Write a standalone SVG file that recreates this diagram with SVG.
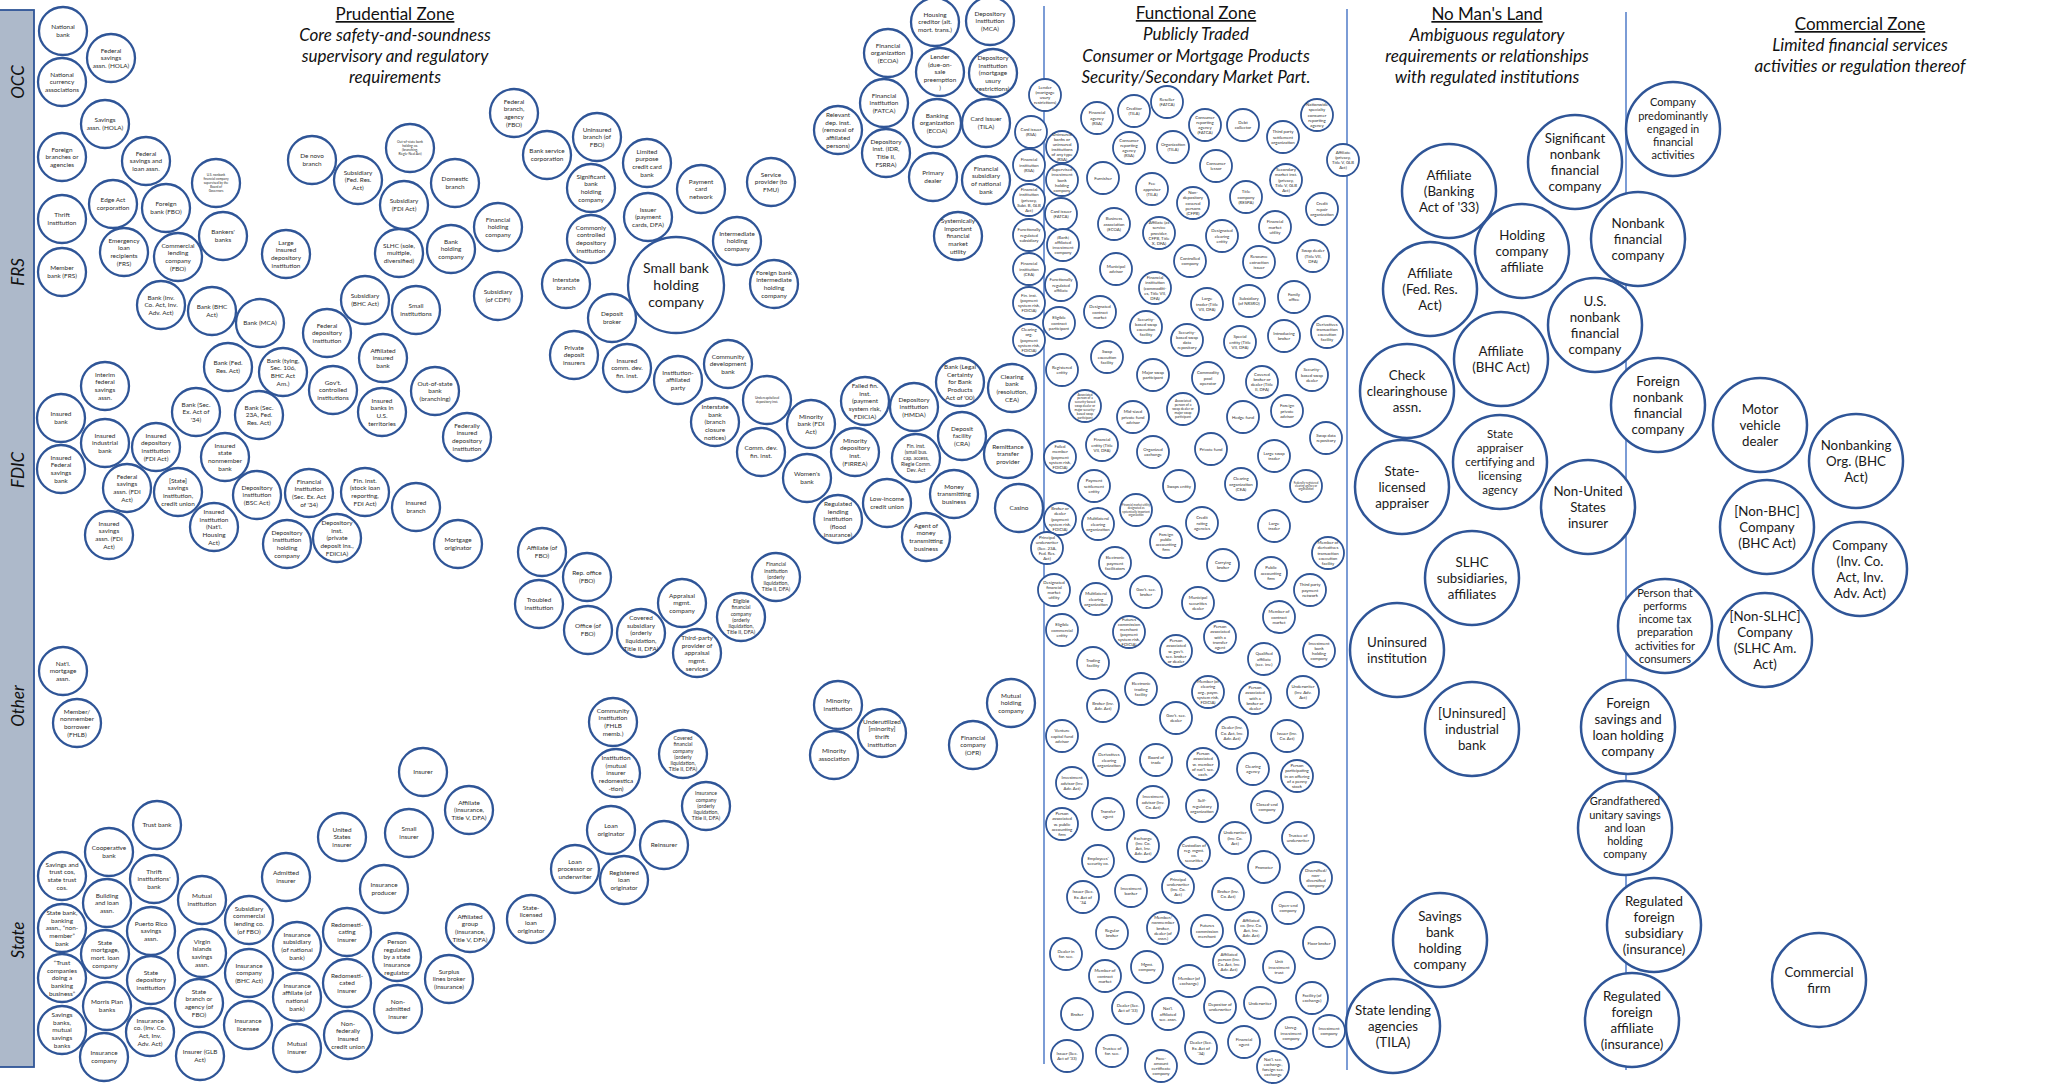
<svg xmlns="http://www.w3.org/2000/svg" width="2070" height="1086" viewBox="0 0 2070 1086">
<style>
text{font-family:Lato,"Open Sans","Liberation Sans",sans-serif;text-anchor:middle}
.a circle{r:24px;fill:#fff;stroke:#2F5597;stroke-width:2.3}
.a text{font-size:6.4px;fill:#2b2b2b}
.b circle{r:16px;fill:#fff;stroke:#2F5597;stroke-width:1.8}
.b text{font-size:4.3px;fill:#2b2b2b}
.d circle{r:47px;fill:#fff;stroke:#2F5597;stroke-width:2.5}
.d text{font-size:13.3px;fill:#1a1a1a}
.big circle{r:48px}
.big text{font-size:14px;fill:#1a1a1a}
.hd{font-size:17px;fill:#111;font-style:italic}
.hu{font-size:17px;fill:#111;text-decoration:underline}
.zl{font-size:17px;fill:#111;font-style:italic}
.div{stroke:#4472C4;stroke-width:1.4}
</style>
<rect id="bg" width="2070" height="1086" fill="#fff"/>
<g id="bar">
<rect x="-3" y="10" width="37" height="1057" fill="#ADB9CA" stroke="#2F5597" stroke-width="1.8"/>
<text class="zl" transform="translate(24,82) rotate(-90)">OCC</text>
<text class="zl" transform="translate(24,272) rotate(-90)">FRS</text>
<text class="zl" transform="translate(24,470) rotate(-90)">FDIC</text>
<text class="zl" transform="translate(24,706) rotate(-90)">Other</text>
<text class="zl" transform="translate(24,940) rotate(-90)">State</text>
</g>
<g id="dividers">
<line class="div" x1="1044" y1="6" x2="1044" y2="1064"/>
<line class="div" x1="1347" y1="9" x2="1347" y2="1070"/>
<line class="div" x1="1626" y1="12" x2="1626" y2="1070"/>
</g>
<g id="headers">
<text class="hu" x="395" y="20">Prudential Zone</text>
<text class="hd" x="395" y="40.5">Core safety-and-soundness</text>
<text class="hd" x="395" y="61.5">supervisory and regulatory</text>
<text class="hd" x="395" y="82.5">requirements</text>
<text class="hu" x="1196" y="19">Functional Zone</text>
<text class="hd" x="1196" y="40">Publicly Traded</text>
<text class="hd" x="1196" y="61.5">Consumer or Mortgage Products</text>
<text class="hd" x="1196" y="82.5">Security/Secondary Market Part.</text>
<text class="hu" x="1487" y="20">No Man's Land</text>
<text class="hd" x="1487" y="41">Ambiguous regulatory</text>
<text class="hd" x="1487" y="62">requirements or relationships</text>
<text class="hd" x="1487" y="83">with regulated institutions</text>
<text class="hu" x="1860" y="30">Commercial Zone</text>
<text class="hd" x="1860" y="51">Limited financial services</text>
<text class="hd" x="1860" y="72">activities or regulation thereof</text>
</g>
<g id="connectors"/>
<g id="prudential-nodes">
<g id="national-bank" class="a" transform="translate(63,31)"><circle/><text y="-.25em">National<tspan x="0" dy="1.2em">bank</tspan></text></g>
<g id="fed-savings-assn-hola" class="a" transform="translate(111,58)"><circle/><text y="-.85em">Federal<tspan x="0" dy="1.2em">savings</tspan><tspan x="0" dy="1.2em">assn. (HOLA)</tspan></text></g>
<g id="national-currency-assns" class="a" transform="translate(62,82)"><circle/><text y="-.85em">National<tspan x="0" dy="1.2em">currency</tspan><tspan x="0" dy="1.2em">associations</tspan></text></g>
<g id="savings-assn-hola" class="a" transform="translate(105,124)"><circle/><text y="-.25em">Savings<tspan x="0" dy="1.2em">assn. (HOLA)</tspan></text></g>
<g id="foreign-branches" class="a" transform="translate(62,157)"><circle/><text y="-.85em">Foreign<tspan x="0" dy="1.2em">branches or</tspan><tspan x="0" dy="1.2em">agencies</tspan></text></g>
<g id="fed-sl-assn" class="a" transform="translate(146,161)"><circle/><text y="-.85em">Federal<tspan x="0" dy="1.2em">savings and</tspan><tspan x="0" dy="1.2em">loan assn.</tspan></text></g>
<g id="us-nonbank-board" class="a" transform="translate(216,183)"><circle/><text y="-2.05em" style="font-size:3.2px">U.S. nonbank<tspan x="0" dy="1.2em">financial company</tspan><tspan x="0" dy="1.2em">supervised by the</tspan><tspan x="0" dy="1.2em">Board of</tspan><tspan x="0" dy="1.2em">Governors</tspan></text></g>
<g id="de-novo-branch" class="a" transform="translate(312,160)"><circle/><text y="-.25em">De novo<tspan x="0" dy="1.2em">branch</tspan></text></g>
<g id="subsidiary-fra" class="a" transform="translate(358,180)"><circle/><text y="-.85em">Subsidiary<tspan x="0" dy="1.2em">(Fed. Res.</tspan><tspan x="0" dy="1.2em">Act)</tspan></text></g>
<g id="edge-act" class="a" transform="translate(113,204)"><circle/><text y="-.25em">Edge Act<tspan x="0" dy="1.2em">corporation</tspan></text></g>
<g id="foreign-bank-fbo" class="a" transform="translate(166,208)"><circle/><text y="-.25em">Foreign<tspan x="0" dy="1.2em">bank (FBO)</tspan></text></g>
<g id="thrift-institution" class="a" transform="translate(62,219)"><circle/><text y="-.25em">Thrift<tspan x="0" dy="1.2em">institution</tspan></text></g>
<g id="bankers-banks" class="a" transform="translate(223,236)"><circle/><text y="-.25em">Bankers'<tspan x="0" dy="1.2em">banks</tspan></text></g>
<g id="emergency-loan" class="a" transform="translate(124,252)"><circle/><text y="-1.45em">Emergency<tspan x="0" dy="1.2em">loan</tspan><tspan x="0" dy="1.2em">recipients</tspan><tspan x="0" dy="1.2em">(FRS)</tspan></text></g>
<g id="commercial-lending-fbo" class="a" transform="translate(178,257)"><circle/><text y="-1.45em">Commercial<tspan x="0" dy="1.2em">lending</tspan><tspan x="0" dy="1.2em">company</tspan><tspan x="0" dy="1.2em">(FBO)</tspan></text></g>
<g id="large-insured-di" class="a" transform="translate(286,254)"><circle/><text y="-1.45em">Large<tspan x="0" dy="1.2em">insured</tspan><tspan x="0" dy="1.2em">depository</tspan><tspan x="0" dy="1.2em">institution</tspan></text></g>
<g id="member-bank-frs" class="a" transform="translate(62,272)"><circle/><text y="-.25em">Member<tspan x="0" dy="1.2em">bank (FRS)</tspan></text></g>
<g id="bank-inv-co" class="a" transform="translate(161,305)"><circle/><text y="-.85em">Bank (Inv.<tspan x="0" dy="1.2em">Co. Act, Inv.</tspan><tspan x="0" dy="1.2em">Adv. Act)</tspan></text></g>
<g id="bank-bhc" class="a" transform="translate(212,311)"><circle/><text y="-.25em">Bank (BHC<tspan x="0" dy="1.2em">Act)</tspan></text></g>
<g id="bank-mca" class="a" transform="translate(260,323)"><circle/><text y=".35em">Bank (MCA)</text></g>
<g id="fed-depository" class="a" transform="translate(327,333)"><circle/><text y="-.85em">Federal<tspan x="0" dy="1.2em">depository</tspan><tspan x="0" dy="1.2em">institution</tspan></text></g>
<g id="subsidiary-bhc" class="a" transform="translate(365,300)"><circle/><text y="-.25em">Subsidiary<tspan x="0" dy="1.2em">(BHC Act)</tspan></text></g>
<g id="bank-fra" class="a" transform="translate(228,367)"><circle/><text y="-.25em">Bank (Fed.<tspan x="0" dy="1.2em">Res. Act)</tspan></text></g>
<g id="bank-tying" class="a" transform="translate(283,372)"><circle/><text y="-1.45em">Bank (tying,<tspan x="0" dy="1.2em">Sec. 106,</tspan><tspan x="0" dy="1.2em">BHC Act</tspan><tspan x="0" dy="1.2em">Am.)</tspan></text></g>
<g id="govt-controlled" class="a" transform="translate(333,390)"><circle/><text y="-.85em">Gov't.<tspan x="0" dy="1.2em">controlled</tspan><tspan x="0" dy="1.2em">institutions</tspan></text></g>
<g id="interim-fed-savings" class="a" transform="translate(105,386)"><circle/><text y="-1.45em">Interim<tspan x="0" dy="1.2em">federal</tspan><tspan x="0" dy="1.2em">savings</tspan><tspan x="0" dy="1.2em">assn.</tspan></text></g>
<g id="insured-bank" class="a" transform="translate(61,418)"><circle/><text y="-.25em">Insured<tspan x="0" dy="1.2em">bank</tspan></text></g>
<g id="bank-sea34" class="a" transform="translate(196,412)"><circle/><text y="-.85em">Bank (Sec.<tspan x="0" dy="1.2em">Ex. Act of</tspan><tspan x="0" dy="1.2em">'34)</tspan></text></g>
<g id="bank-23a" class="a" transform="translate(259,415)"><circle/><text y="-.85em">Bank (Sec.<tspan x="0" dy="1.2em">23A, Fed.</tspan><tspan x="0" dy="1.2em">Res. Act)</tspan></text></g>
<g id="insured-industrial" class="a" transform="translate(105,443)"><circle/><text y="-.85em">Insured<tspan x="0" dy="1.2em">industrial</tspan><tspan x="0" dy="1.2em">bank</tspan></text></g>
<g id="idi-fdi" class="a" transform="translate(156,447)"><circle/><text y="-1.45em">Insured<tspan x="0" dy="1.2em">depository</tspan><tspan x="0" dy="1.2em">institution</tspan><tspan x="0" dy="1.2em">(FDI Act)</tspan></text></g>
<g id="insured-state-nonmember" class="a" transform="translate(225,457)"><circle/><text y="-1.45em">Insured<tspan x="0" dy="1.2em">state</tspan><tspan x="0" dy="1.2em">nonmember</tspan><tspan x="0" dy="1.2em">bank</tspan></text></g>
<g id="insured-fed-savings-bank" class="a" transform="translate(61,469)"><circle/><text y="-1.45em">Insured<tspan x="0" dy="1.2em">Federal</tspan><tspan x="0" dy="1.2em">savings</tspan><tspan x="0" dy="1.2em">bank</tspan></text></g>
<g id="fed-savings-fdi" class="a" transform="translate(127,488)"><circle/><text y="-1.45em">Federal<tspan x="0" dy="1.2em">savings</tspan><tspan x="0" dy="1.2em">assn. (FDI</tspan><tspan x="0" dy="1.2em">Act)</tspan></text></g>
<g id="state-savings-cu" class="a" transform="translate(178,492)"><circle/><text y="-1.45em">[State]<tspan x="0" dy="1.2em">savings</tspan><tspan x="0" dy="1.2em">institution,</tspan><tspan x="0" dy="1.2em">credit union</tspan></text></g>
<g id="di-bsc" class="a" transform="translate(257,495)"><circle/><text y="-.85em">Depository<tspan x="0" dy="1.2em">institution</tspan><tspan x="0" dy="1.2em">(BSC Act)</tspan></text></g>
<g id="fi-sea34" class="a" transform="translate(309,493)"><circle/><text y="-1.45em">Financial<tspan x="0" dy="1.2em">Institution</tspan><tspan x="0" dy="1.2em">(Sec. Ex. Act</tspan><tspan x="0" dy="1.2em">of '34)</tspan></text></g>
<g id="fi-stock-loan" class="a" transform="translate(365,492)"><circle/><text y="-1.45em">Fin. inst.<tspan x="0" dy="1.2em">(stock loan</tspan><tspan x="0" dy="1.2em">reporting,</tspan><tspan x="0" dy="1.2em">FDI Act)</tspan></text></g>
<g id="insured-inst-nha" class="a" transform="translate(214,527)"><circle/><text y="-2.05em">Insured<tspan x="0" dy="1.2em">institution</tspan><tspan x="0" dy="1.2em">(Nat'l.</tspan><tspan x="0" dy="1.2em">Housing</tspan><tspan x="0" dy="1.2em">Act)</tspan></text></g>
<g id="dihc" class="a" transform="translate(287,544)"><circle/><text y="-1.45em">Depository<tspan x="0" dy="1.2em">institution</tspan><tspan x="0" dy="1.2em">holding</tspan><tspan x="0" dy="1.2em">company</tspan></text></g>
<g id="di-private-ins" class="a" transform="translate(337,538)"><circle/><text y="-2.05em">Depository<tspan x="0" dy="1.2em">inst.</tspan><tspan x="0" dy="1.2em">(private</tspan><tspan x="0" dy="1.2em">deposit ins.,</tspan><tspan x="0" dy="1.2em">FDICIA)</tspan></text></g>
<g id="insured-savings-fdi" class="a" transform="translate(109,535)"><circle/><text y="-1.45em">Insured<tspan x="0" dy="1.2em">savings</tspan><tspan x="0" dy="1.2em">assn. (FDI</tspan><tspan x="0" dy="1.2em">Act)</tspan></text></g>
<g id="natl-mortgage" class="a" transform="translate(63,671)"><circle/><text y="-.85em">Nat'l.<tspan x="0" dy="1.2em">mortgage</tspan><tspan x="0" dy="1.2em">assn.</tspan></text></g>
<g id="fhlb-borrower" class="a" transform="translate(77,723)"><circle/><text y="-1.45em">Member/<tspan x="0" dy="1.2em">nonmember</tspan><tspan x="0" dy="1.2em">borrower</tspan><tspan x="0" dy="1.2em">(FHLB)</tspan></text></g>
<g id="fed-branch-fbo" class="a" transform="translate(514,113)"><circle/><text y="-1.45em">Federal<tspan x="0" dy="1.2em">branch,</tspan><tspan x="0" dy="1.2em">agency</tspan><tspan x="0" dy="1.2em">(FBO)</tspan></text></g>
<g id="oos-bhc" class="a" transform="translate(410,148)"><circle/><text y="-1.45em" style="font-size:3.3px">Out-of-state bank<tspan x="0" dy="1.2em">holding co.</tspan><tspan x="0" dy="1.2em">(branching,</tspan><tspan x="0" dy="1.2em">Riegle-Neal Act)</tspan></text></g>
<g id="bank-service-corp" class="a" transform="translate(547,155)"><circle/><text y="-.25em">Bank service<tspan x="0" dy="1.2em">corporation</tspan></text></g>
<g id="uninsured-branch-fbo" class="a" transform="translate(597,137)"><circle/><text y="-.85em">Uninsured<tspan x="0" dy="1.2em">branch (of</tspan><tspan x="0" dy="1.2em">FBO)</tspan></text></g>
<g id="domestic-branch" class="a" transform="translate(455,183)"><circle/><text y="-.25em">Domestic<tspan x="0" dy="1.2em">branch</tspan></text></g>
<g id="subsidiary-fdi" class="a" transform="translate(404,205)"><circle/><text y="-.25em">Subsidiary<tspan x="0" dy="1.2em">(FDI Act)</tspan></text></g>
<g id="limited-purpose-cc" class="a" transform="translate(647,163)"><circle/><text y="-1.45em">Limited<tspan x="0" dy="1.2em">purpose</tspan><tspan x="0" dy="1.2em">credit card</tspan><tspan x="0" dy="1.2em">bank</tspan></text></g>
<g id="significant-bhc" class="a" transform="translate(591,188)"><circle/><text y="-1.45em">Significant<tspan x="0" dy="1.2em">bank</tspan><tspan x="0" dy="1.2em">holding</tspan><tspan x="0" dy="1.2em">company</tspan></text></g>
<g id="payment-card-network" class="a" transform="translate(701,189)"><circle/><text y="-.85em">Payment<tspan x="0" dy="1.2em">card</tspan><tspan x="0" dy="1.2em">network</tspan></text></g>
<g id="fhc" class="a" transform="translate(498,227)"><circle/><text y="-.85em">Financial<tspan x="0" dy="1.2em">holding</tspan><tspan x="0" dy="1.2em">company</tspan></text></g>
<g id="issuer-payment-cards" class="a" transform="translate(648,217)"><circle/><text y="-.85em">Issuer<tspan x="0" dy="1.2em">(payment</tspan><tspan x="0" dy="1.2em">cards, DFA)</tspan></text></g>
<g id="bhc" class="a" transform="translate(451,249)"><circle/><text y="-.85em">Bank<tspan x="0" dy="1.2em">holding</tspan><tspan x="0" dy="1.2em">company</tspan></text></g>
<g id="slhc" class="a" transform="translate(399,253)"><circle/><text y="-.85em">SLHC (sole,<tspan x="0" dy="1.2em">multiple,</tspan><tspan x="0" dy="1.2em">diversified)</tspan></text></g>
<g id="commonly-controlled" class="a" transform="translate(591,239)"><circle/><text y="-1.45em">Commonly<tspan x="0" dy="1.2em">controlled</tspan><tspan x="0" dy="1.2em">depository</tspan><tspan x="0" dy="1.2em">institution</tspan></text></g>
<g id="small-bhc" class="a big" transform="translate(676,285)"><circle/><text y="-.85em">Small bank<tspan x="0" dy="1.2em">holding</tspan><tspan x="0" dy="1.2em">company</tspan></text></g>
<g id="interstate-branch" class="a" transform="translate(566,284)"><circle/><text y="-.25em">Interstate<tspan x="0" dy="1.2em">branch</tspan></text></g>
<g id="subsidiary-cdfi" class="a" transform="translate(498,296)"><circle/><text y="-.25em">Subsidiary<tspan x="0" dy="1.2em">(of CDFI)</tspan></text></g>
<g id="small-institutions" class="a" transform="translate(416,310)"><circle/><text y="-.25em">Small<tspan x="0" dy="1.2em">institutions</tspan></text></g>
<g id="deposit-broker" class="a" transform="translate(612,318)"><circle/><text y="-.25em">Deposit<tspan x="0" dy="1.2em">broker</tspan></text></g>
<g id="affiliated-insured-bank" class="a" transform="translate(383,358)"><circle/><text y="-.85em">Affiliated<tspan x="0" dy="1.2em">insured</tspan><tspan x="0" dy="1.2em">bank</tspan></text></g>
<g id="private-deposit-insurers" class="a" transform="translate(574,355)"><circle/><text y="-.85em">Private<tspan x="0" dy="1.2em">deposit</tspan><tspan x="0" dy="1.2em">insurers</tspan></text></g>
<g id="insured-cdfi" class="a" transform="translate(627,368)"><circle/><text y="-.85em">Insured<tspan x="0" dy="1.2em">comm. dev.</tspan><tspan x="0" dy="1.2em">fin. inst.</tspan></text></g>
<g id="iap" class="a" transform="translate(678,380)"><circle/><text y="-.85em">Institution-<tspan x="0" dy="1.2em">affiliated</tspan><tspan x="0" dy="1.2em">party</tspan></text></g>
<g id="oos-bank" class="a" transform="translate(435,391)"><circle/><text y="-.85em">Out-of-state<tspan x="0" dy="1.2em">bank</tspan><tspan x="0" dy="1.2em">(branching)</tspan></text></g>
<g id="insured-banks-territories" class="a" transform="translate(382,412)"><circle/><text y="-1.45em">Insured<tspan x="0" dy="1.2em">banks in</tspan><tspan x="0" dy="1.2em">U.S.</tspan><tspan x="0" dy="1.2em">territories</tspan></text></g>
<g id="fidi" class="a" transform="translate(467,437)"><circle/><text y="-1.45em">Federally<tspan x="0" dy="1.2em">insured</tspan><tspan x="0" dy="1.2em">depository</tspan><tspan x="0" dy="1.2em">institution</tspan></text></g>
<g id="insured-branch" class="a" transform="translate(416,507)"><circle/><text y="-.25em">Insured<tspan x="0" dy="1.2em">branch</tspan></text></g>
<g id="mortgage-originator" class="a" transform="translate(458,544)"><circle/><text y="-.25em">Mortgage<tspan x="0" dy="1.2em">originator</tspan></text></g>
<g id="affiliate-fbo" class="a" transform="translate(542,552)"><circle/><text y="-.25em">Affiliate (of<tspan x="0" dy="1.2em">FBO)</tspan></text></g>
<g id="rep-office-fbo" class="a" transform="translate(587,577)"><circle/><text y="-.25em">Rep. office<tspan x="0" dy="1.2em">(FBO)</tspan></text></g>
<g id="troubled" class="a" transform="translate(539,604)"><circle/><text y="-.25em">Troubled<tspan x="0" dy="1.2em">institution</tspan></text></g>
<g id="office-fbo" class="a" transform="translate(588,630)"><circle/><text y="-.25em">Office (of<tspan x="0" dy="1.2em">FBO)</tspan></text></g>
<g id="covered-subsidiary" class="a" transform="translate(641,633)"><circle/><text y="-2.05em">Covered<tspan x="0" dy="1.2em">subsidiary</tspan><tspan x="0" dy="1.2em">(orderly</tspan><tspan x="0" dy="1.2em">liquidation,</tspan><tspan x="0" dy="1.2em">Title II, DFA)</tspan></text></g>
<g id="appraisal-mgmt" class="a" transform="translate(682,603)"><circle/><text y="-.85em">Appraisal<tspan x="0" dy="1.2em">mgmt.</tspan><tspan x="0" dy="1.2em">company</tspan></text></g>
<g id="third-party-appraisal" class="a" transform="translate(697,653)"><circle/><text y="-2.05em">Third-party<tspan x="0" dy="1.2em">provider of</tspan><tspan x="0" dy="1.2em">appraisal</tspan><tspan x="0" dy="1.2em">mgmt.</tspan><tspan x="0" dy="1.2em">services</tspan></text></g>
<g id="community-inst-fhlb" class="a" transform="translate(613,722)"><circle/><text y="-1.45em">Community<tspan x="0" dy="1.2em">institution</tspan><tspan x="0" dy="1.2em">(FHLB</tspan><tspan x="0" dy="1.2em">memb.)</tspan></text></g>
<g id="service-provider-fmu" class="a" transform="translate(771,182)"><circle/><text y="-.85em">Service<tspan x="0" dy="1.2em">provider (to</tspan><tspan x="0" dy="1.2em">FMU)</tspan></text></g>
<g id="ihc" class="a" transform="translate(737,241)"><circle/><text y="-.85em">Intermediate<tspan x="0" dy="1.2em">holding</tspan><tspan x="0" dy="1.2em">company</tspan></text></g>
<g id="foreign-bank-ihc" class="a" transform="translate(774,284)"><circle/><text y="-1.45em">Foreign bank<tspan x="0" dy="1.2em">intermediate</tspan><tspan x="0" dy="1.2em">holding</tspan><tspan x="0" dy="1.2em">company</tspan></text></g>
<g id="cdb" class="a" transform="translate(728,364)"><circle/><text y="-.85em">Community<tspan x="0" dy="1.2em">development</tspan><tspan x="0" dy="1.2em">bank</tspan></text></g>
<g id="housing-creditor" class="a" transform="translate(935,22)"><circle/><text y="-.85em">Housing<tspan x="0" dy="1.2em">creditor (alt.</tspan><tspan x="0" dy="1.2em">mort. trans.)</tspan></text></g>
<g id="di-mca" class="a" transform="translate(990,21)"><circle/><text y="-.85em">Depository<tspan x="0" dy="1.2em">institution</tspan><tspan x="0" dy="1.2em">(MCA)</tspan></text></g>
<g id="fin-org-ecoa" class="a" transform="translate(888,53)"><circle/><text y="-.85em">Financial<tspan x="0" dy="1.2em">organization</tspan><tspan x="0" dy="1.2em">(ECOA)</tspan></text></g>
<g id="lender-due-on-sale" class="a" transform="translate(940,72)"><circle/><text y="-2.05em">Lender<tspan x="0" dy="1.2em">(due-on-</tspan><tspan x="0" dy="1.2em">sale</tspan><tspan x="0" dy="1.2em">preemption</tspan><tspan x="0" dy="1.2em">)</tspan></text></g>
<g id="di-usury" class="a" transform="translate(993,73)"><circle/><text y="-2.05em">Depository<tspan x="0" dy="1.2em">institution</tspan><tspan x="0" dy="1.2em">(mortgage</tspan><tspan x="0" dy="1.2em">usury</tspan><tspan x="0" dy="1.2em">restrictions)</tspan></text></g>
<g id="fi-fatca" class="a" transform="translate(884,103)"><circle/><text y="-.85em">Financial<tspan x="0" dy="1.2em">institution</tspan><tspan x="0" dy="1.2em">(FATCA)</tspan></text></g>
<g id="relevant-dep-inst" class="a" transform="translate(838,130)"><circle/><text y="-2.05em">Relevant<tspan x="0" dy="1.2em">dep. inst.</tspan><tspan x="0" dy="1.2em">(removal of</tspan><tspan x="0" dy="1.2em">affiliated</tspan><tspan x="0" dy="1.2em">persons)</tspan></text></g>
<g id="banking-org-ecoa" class="a" transform="translate(937,123)"><circle/><text y="-.85em">Banking<tspan x="0" dy="1.2em">organization</tspan><tspan x="0" dy="1.2em">(ECOA)</tspan></text></g>
<g id="card-issuer-tila" class="a" transform="translate(986,123)"><circle/><text y="-.25em">Card issuer<tspan x="0" dy="1.2em">(TILA)</tspan></text></g>
<g id="di-idr" class="a" transform="translate(886,153)"><circle/><text y="-1.45em">Depository<tspan x="0" dy="1.2em">inst. (IDR,</tspan><tspan x="0" dy="1.2em">Title II,</tspan><tspan x="0" dy="1.2em">FSRRA)</tspan></text></g>
<g id="primary-dealer" class="a" transform="translate(933,177)"><circle/><text y="-.25em">Primary<tspan x="0" dy="1.2em">dealer</tspan></text></g>
<g id="fin-sub-natl-bank" class="a" transform="translate(986,180)"><circle/><text y="-1.45em">Financial<tspan x="0" dy="1.2em">subsidiary</tspan><tspan x="0" dy="1.2em">of national</tspan><tspan x="0" dy="1.2em">bank</tspan></text></g>
<g id="simfu" class="a" transform="translate(958,236)"><circle/><text y="-2.05em">Systemically<tspan x="0" dy="1.2em">important</tspan><tspan x="0" dy="1.2em">financial</tspan><tspan x="0" dy="1.2em">market</tspan><tspan x="0" dy="1.2em">utility</tspan></text></g>
<g id="undercap" class="a" transform="translate(767,400)"><circle/><text y="-.25em" style="font-size:3.3px">Undercapitalized<tspan x="0" dy="1.2em">depository inst.</tspan></text></g>
<g id="interstate-bank" class="a" transform="translate(715,422)"><circle/><text y="-2.05em">Interstate<tspan x="0" dy="1.2em">bank</tspan><tspan x="0" dy="1.2em">(branch</tspan><tspan x="0" dy="1.2em">closure</tspan><tspan x="0" dy="1.2em">notices)</tspan></text></g>
<g id="failed-fi" class="a" transform="translate(865,401)"><circle/><text y="-2.05em">Failed fin.<tspan x="0" dy="1.2em">inst.</tspan><tspan x="0" dy="1.2em">(payment</tspan><tspan x="0" dy="1.2em">system risk,</tspan><tspan x="0" dy="1.2em">FDICIA)</tspan></text></g>
<g id="di-hmda" class="a" transform="translate(914,407)"><circle/><text y="-.85em">Depository<tspan x="0" dy="1.2em">institution</tspan><tspan x="0" dy="1.2em">(HMDA)</tspan></text></g>
<g id="bank-legal-certainty" class="a" transform="translate(960,382)"><circle/><text y="-2.05em">Bank (Legal<tspan x="0" dy="1.2em">Certainty</tspan><tspan x="0" dy="1.2em">for Bank</tspan><tspan x="0" dy="1.2em">Products</tspan><tspan x="0" dy="1.2em">Act of '00)</tspan></text></g>
<g id="clearing-bank" class="a" transform="translate(1012,388)"><circle/><text y="-1.45em">Clearing<tspan x="0" dy="1.2em">bank</tspan><tspan x="0" dy="1.2em">(resolution,</tspan><tspan x="0" dy="1.2em">CEA)</tspan></text></g>
<g id="minority-bank" class="a" transform="translate(811,424)"><circle/><text y="-.85em">Minority<tspan x="0" dy="1.2em">bank (FDI</tspan><tspan x="0" dy="1.2em">Act)</tspan></text></g>
<g id="comm-dev-fi" class="a" transform="translate(761,452)"><circle/><text y="-.25em">Comm. dev.<tspan x="0" dy="1.2em">fin. inst.</tspan></text></g>
<g id="minority-di-firrea" class="a" transform="translate(855,452)"><circle/><text y="-1.45em">Minority<tspan x="0" dy="1.2em">depository</tspan><tspan x="0" dy="1.2em">inst.</tspan><tspan x="0" dy="1.2em">(FIRREA)</tspan></text></g>
<g id="fi-small-bus" class="a" transform="translate(916,458)"><circle/><text y="-2.05em" style="font-size:5px">Fin. inst.<tspan x="0" dy="1.2em">(small bus.</tspan><tspan x="0" dy="1.2em">cap. access,</tspan><tspan x="0" dy="1.2em">Riegle Comm.</tspan><tspan x="0" dy="1.2em">Dev. Act</tspan></text></g>
<g id="deposit-facility" class="a" transform="translate(962,436)"><circle/><text y="-.85em">Deposit<tspan x="0" dy="1.2em">facility</tspan><tspan x="0" dy="1.2em">(CRA)</tspan></text></g>
<g id="remittance" class="a" transform="translate(1008,454)"><circle/><text y="-.85em">Remittance<tspan x="0" dy="1.2em">transfer</tspan><tspan x="0" dy="1.2em">provider</tspan></text></g>
<g id="womens-bank" class="a" transform="translate(807,478)"><circle/><text y="-.25em">Women's<tspan x="0" dy="1.2em">bank</tspan></text></g>
<g id="money-transmitting" class="a" transform="translate(954,494)"><circle/><text y="-.85em">Money<tspan x="0" dy="1.2em">transmitting</tspan><tspan x="0" dy="1.2em">business</tspan></text></g>
<g id="low-income-cu" class="a" transform="translate(887,503)"><circle/><text y="-.25em">Low-income<tspan x="0" dy="1.2em">credit union</tspan></text></g>
<g id="regulated-lending" class="a" transform="translate(838,519)"><circle/><text y="-2.05em">Regulated<tspan x="0" dy="1.2em">lending</tspan><tspan x="0" dy="1.2em">institution</tspan><tspan x="0" dy="1.2em">(flood</tspan><tspan x="0" dy="1.2em">insurance)</tspan></text></g>
<g id="casino" class="a" transform="translate(1019,508)"><circle/><text y=".35em">Casino</text></g>
<g id="agent-money" class="a" transform="translate(926,537)"><circle/><text y="-1.45em">Agent of<tspan x="0" dy="1.2em">money</tspan><tspan x="0" dy="1.2em">transmitting</tspan><tspan x="0" dy="1.2em">business</tspan></text></g>
<g id="fi-orderly" class="a" transform="translate(776,577)"><circle/><text y="-2.05em" style="font-size:5.2px">Financial<tspan x="0" dy="1.2em">institution</tspan><tspan x="0" dy="1.2em">(orderly</tspan><tspan x="0" dy="1.2em">liquidation,</tspan><tspan x="0" dy="1.2em">Title II, DFA)</tspan></text></g>
<g id="eligible-fc" class="a" transform="translate(741,617)"><circle/><text y="-2.65em" style="font-size:5.2px">Eligible<tspan x="0" dy="1.2em">financial</tspan><tspan x="0" dy="1.2em">company</tspan><tspan x="0" dy="1.2em">(orderly</tspan><tspan x="0" dy="1.2em">liquidation,</tspan><tspan x="0" dy="1.2em">Title II, DFA)</tspan></text></g>
<g id="minority-institution" class="a" transform="translate(838,705)"><circle/><text y="-.25em">Minority<tspan x="0" dy="1.2em">institution</tspan></text></g>
<g id="mutual-hc" class="a" transform="translate(1011,703)"><circle/><text y="-.85em">Mutual<tspan x="0" dy="1.2em">holding</tspan><tspan x="0" dy="1.2em">company</tspan></text></g>
<g id="underutilized" class="a" transform="translate(882,733)"><circle/><text y="-1.45em">Underutilized<tspan x="0" dy="1.2em">[minority]</tspan><tspan x="0" dy="1.2em">thrift</tspan><tspan x="0" dy="1.2em">institution</tspan></text></g>
<g id="minority-assn" class="a" transform="translate(834,755)"><circle/><text y="-.25em">Minority<tspan x="0" dy="1.2em">association</tspan></text></g>
<g id="financial-company-ofr" class="a" transform="translate(973,745)"><circle/><text y="-.85em">Financial<tspan x="0" dy="1.2em">company</tspan><tspan x="0" dy="1.2em">(OFR)</tspan></text></g>
<g id="covered-fc" class="a" transform="translate(683,754)"><circle/><text y="-2.65em" style="font-size:5.2px">Covered<tspan x="0" dy="1.2em">financial</tspan><tspan x="0" dy="1.2em">company</tspan><tspan x="0" dy="1.2em">(orderly</tspan><tspan x="0" dy="1.2em">liquidation,</tspan><tspan x="0" dy="1.2em">Title II, DFA)</tspan></text></g>
<g id="insurance-co-orderly" class="a" transform="translate(706,806)"><circle/><text y="-2.05em" style="font-size:5.2px">Insurance<tspan x="0" dy="1.2em">company</tspan><tspan x="0" dy="1.2em">(orderly</tspan><tspan x="0" dy="1.2em">liquidation,</tspan><tspan x="0" dy="1.2em">Title II, DFA)</tspan></text></g>
<g id="inst-mutual-insurer" class="a" transform="translate(616,773)"><circle/><text y="-2.05em">Institution<tspan x="0" dy="1.2em">(mutual</tspan><tspan x="0" dy="1.2em">insurer</tspan><tspan x="0" dy="1.2em">redomestica</tspan><tspan x="0" dy="1.2em">-tion)</tspan></text></g>
<g id="loan-originator" class="a" transform="translate(611,830)"><circle/><text y="-.25em">Loan<tspan x="0" dy="1.2em">originator</tspan></text></g>
<g id="reinsurer" class="a" transform="translate(664,845)"><circle/><text y=".35em">Reinsurer</text></g>
<g id="loan-processor" class="a" transform="translate(575,869)"><circle/><text y="-.85em">Loan<tspan x="0" dy="1.2em">processor or</tspan><tspan x="0" dy="1.2em">underwriter</tspan></text></g>
<g id="registered-lo" class="a" transform="translate(624,880)"><circle/><text y="-.85em">Registered<tspan x="0" dy="1.2em">loan</tspan><tspan x="0" dy="1.2em">originator</tspan></text></g>
<g id="state-licensed-lo" class="a" transform="translate(531,919)"><circle/><text y="-1.45em">State-<tspan x="0" dy="1.2em">licensed</tspan><tspan x="0" dy="1.2em">loan</tspan><tspan x="0" dy="1.2em">originator</tspan></text></g>
<g id="insurer" class="a" transform="translate(423,772)"><circle/><text y=".35em">Insurer</text></g>
<g id="affiliate-insurance" class="a" transform="translate(469,810)"><circle/><text y="-.85em">Affiliate<tspan x="0" dy="1.2em">(insurance,</tspan><tspan x="0" dy="1.2em">Title V, DFA)</tspan></text></g>
<g id="small-insurer" class="a" transform="translate(409,833)"><circle/><text y="-.25em">Small<tspan x="0" dy="1.2em">insurer</tspan></text></g>
<g id="insurance-producer" class="a" transform="translate(384,889)"><circle/><text y="-.25em">Insurance<tspan x="0" dy="1.2em">producer</tspan></text></g>
<g id="affiliated-group" class="a" transform="translate(470,928)"><circle/><text y="-1.45em">Affiliated<tspan x="0" dy="1.2em">group</tspan><tspan x="0" dy="1.2em">(insurance,</tspan><tspan x="0" dy="1.2em">Title V, DFA)</tspan></text></g>
<g id="person-regulated" class="a" transform="translate(397,957)"><circle/><text y="-2.05em">Person<tspan x="0" dy="1.2em">regulated</tspan><tspan x="0" dy="1.2em">by a state</tspan><tspan x="0" dy="1.2em">insurance</tspan><tspan x="0" dy="1.2em">regulator</tspan></text></g>
<g id="surplus-lines" class="a" transform="translate(449,979)"><circle/><text y="-.85em">Surplus<tspan x="0" dy="1.2em">lines broker</tspan><tspan x="0" dy="1.2em">(insurance)</tspan></text></g>
<g id="non-admitted" class="a" transform="translate(398,1009)"><circle/><text y="-.85em">Non-<tspan x="0" dy="1.2em">admitted</tspan><tspan x="0" dy="1.2em">insurer</tspan></text></g>
<g id="trust-bank" class="a" transform="translate(157,825)"><circle/><text y=".35em">Trust bank</text></g>
<g id="cooperative-bank" class="a" transform="translate(109,852)"><circle/><text y="-.25em">Cooperative<tspan x="0" dy="1.2em">bank</tspan></text></g>
<g id="savings-trust-cos" class="a" transform="translate(62,876)"><circle/><text y="-1.45em">Savings and<tspan x="0" dy="1.2em">trust cos,</tspan><tspan x="0" dy="1.2em">state trust</tspan><tspan x="0" dy="1.2em">cos.</tspan></text></g>
<g id="thrift-inst-bank" class="a" transform="translate(154,879)"><circle/><text y="-.85em">Thrift<tspan x="0" dy="1.2em">institutions'</tspan><tspan x="0" dy="1.2em">bank</tspan></text></g>
<g id="building-loan" class="a" transform="translate(107,903)"><circle/><text y="-.85em">Building<tspan x="0" dy="1.2em">and loan</tspan><tspan x="0" dy="1.2em">assn.</tspan></text></g>
<g id="mutual-institution" class="a" transform="translate(202,900)"><circle/><text y="-.25em">Mutual<tspan x="0" dy="1.2em">institution</tspan></text></g>
<g id="admitted-insurer" class="a" transform="translate(286,877)"><circle/><text y="-.25em">Admitted<tspan x="0" dy="1.2em">insurer</tspan></text></g>
<g id="us-insurer" class="a" transform="translate(342,837)"><circle/><text y="-.85em">United<tspan x="0" dy="1.2em">States</tspan><tspan x="0" dy="1.2em">insurer</tspan></text></g>
<g id="state-bank" class="a" transform="translate(62,928)"><circle/><text y="-2.05em">State bank,<tspan x="0" dy="1.2em">banking</tspan><tspan x="0" dy="1.2em">assn., “non-</tspan><tspan x="0" dy="1.2em">member”</tspan><tspan x="0" dy="1.2em">bank</tspan></text></g>
<g id="puerto-rico" class="a" transform="translate(151,931)"><circle/><text y="-.85em">Puerto Rico<tspan x="0" dy="1.2em">savings</tspan><tspan x="0" dy="1.2em">assn.</tspan></text></g>
<g id="sub-commercial-lending" class="a" transform="translate(249,920)"><circle/><text y="-1.45em">Subsidiary<tspan x="0" dy="1.2em">commercial</tspan><tspan x="0" dy="1.2em">lending co.</tspan><tspan x="0" dy="1.2em">(of FBO)</tspan></text></g>
<g id="insurance-sub-natl" class="a" transform="translate(297,946)"><circle/><text y="-1.45em">Insurance<tspan x="0" dy="1.2em">subsidiary</tspan><tspan x="0" dy="1.2em">(of national</tspan><tspan x="0" dy="1.2em">bank)</tspan></text></g>
<g id="redomesticating" class="a" transform="translate(347,932)"><circle/><text y="-.85em">Redomesti-<tspan x="0" dy="1.2em">cating</tspan><tspan x="0" dy="1.2em">insurer</tspan></text></g>
<g id="state-mortgage" class="a" transform="translate(105,954)"><circle/><text y="-1.45em">State<tspan x="0" dy="1.2em">mortgage,</tspan><tspan x="0" dy="1.2em">mort. loan</tspan><tspan x="0" dy="1.2em">company</tspan></text></g>
<g id="virgin-islands" class="a" transform="translate(202,953)"><circle/><text y="-1.45em">Virgin<tspan x="0" dy="1.2em">Islands</tspan><tspan x="0" dy="1.2em">savings</tspan><tspan x="0" dy="1.2em">assn.</tspan></text></g>
<g id="trust-companies" class="a" transform="translate(62,978)"><circle/><text y="-2.05em">“Trust<tspan x="0" dy="1.2em">companies</tspan><tspan x="0" dy="1.2em">doing a</tspan><tspan x="0" dy="1.2em">banking</tspan><tspan x="0" dy="1.2em">business”</tspan></text></g>
<g id="state-di" class="a" transform="translate(151,980)"><circle/><text y="-.85em">State<tspan x="0" dy="1.2em">depository</tspan><tspan x="0" dy="1.2em">institution</tspan></text></g>
<g id="insurance-co-bhc" class="a" transform="translate(249,973)"><circle/><text y="-.85em">Insurance<tspan x="0" dy="1.2em">company</tspan><tspan x="0" dy="1.2em">(BHC Act)</tspan></text></g>
<g id="insurance-affiliate-natl" class="a" transform="translate(297,997)"><circle/><text y="-1.45em">Insurance<tspan x="0" dy="1.2em">affiliate (of</tspan><tspan x="0" dy="1.2em">national</tspan><tspan x="0" dy="1.2em">bank)</tspan></text></g>
<g id="redomesticated" class="a" transform="translate(347,983)"><circle/><text y="-.85em">Redomesti-<tspan x="0" dy="1.2em">cated</tspan><tspan x="0" dy="1.2em">insurer</tspan></text></g>
<g id="morris-plan" class="a" transform="translate(107,1006)"><circle/><text y="-.25em">Morris Plan<tspan x="0" dy="1.2em">banks</tspan></text></g>
<g id="state-branch-fbo" class="a" transform="translate(199,1003)"><circle/><text y="-1.45em">State<tspan x="0" dy="1.2em">branch or</tspan><tspan x="0" dy="1.2em">agency (of</tspan><tspan x="0" dy="1.2em">FBO)</tspan></text></g>
<g id="savings-banks" class="a" transform="translate(62,1030)"><circle/><text y="-2.05em">Savings<tspan x="0" dy="1.2em">banks,</tspan><tspan x="0" dy="1.2em">mutual</tspan><tspan x="0" dy="1.2em">savings</tspan><tspan x="0" dy="1.2em">banks</tspan></text></g>
<g id="insurance-co-inv" class="a" transform="translate(150,1032)"><circle/><text y="-1.45em">Insurance<tspan x="0" dy="1.2em">co. (Inv. Co.</tspan><tspan x="0" dy="1.2em">Act, Inv.</tspan><tspan x="0" dy="1.2em">Adv. Act)</tspan></text></g>
<g id="insurance-licensee" class="a" transform="translate(248,1025)"><circle/><text y="-.25em">Insurance<tspan x="0" dy="1.2em">licensee</tspan></text></g>
<g id="non-fed-cu" class="a" transform="translate(348,1035)"><circle/><text y="-1.45em">Non-<tspan x="0" dy="1.2em">federally</tspan><tspan x="0" dy="1.2em">insured</tspan><tspan x="0" dy="1.2em">credit union</tspan></text></g>
<g id="mutual-insurer" class="a" transform="translate(297,1048)"><circle/><text y="-.25em">Mutual<tspan x="0" dy="1.2em">insurer</tspan></text></g>
<g id="insurance-company" class="a" transform="translate(104,1057)"><circle/><text y="-.25em">Insurance<tspan x="0" dy="1.2em">company</tspan></text></g>
<g id="insurer-glb" class="a" transform="translate(200,1056)"><circle/><text y="-.25em">Insurer (GLB<tspan x="0" dy="1.2em">Act)</tspan></text></g>
</g>
<g id="functional-nodes">
<g id="f-lender-usury" class="b" transform="translate(1045,95)"><circle/><text y="-1.45em">Lender<tspan x="0" dy="1.2em">(mortgage</tspan><tspan x="0" dy="1.2em">usury</tspan><tspan x="0" dy="1.2em">restrictions)</tspan></text></g>
<g id="f-card-issuer-rsa" class="b" transform="translate(1031,132)"><circle/><text y="-.25em">Card issuer<tspan x="0" dy="1.2em">(RSA)</tspan></text></g>
<g id="f-fi-rsa" class="b" transform="translate(1029,165)"><circle/><text y="-.85em">Financial<tspan x="0" dy="1.2em">institution</tspan><tspan x="0" dy="1.2em">(RSA)</tspan></text></g>
<g id="f-fi-privacy" class="b" transform="translate(1029,200)"><circle/><text y="-2.05em">Financial<tspan x="0" dy="1.2em">institution</tspan><tspan x="0" dy="1.2em">(privacy,</tspan><tspan x="0" dy="1.2em">Subt. B, GLB</tspan><tspan x="0" dy="1.2em">Act)</tspan></text></g>
<g id="f-func-reg-sub" class="b" transform="translate(1029,235)"><circle/><text y="-.85em">Functionally<tspan x="0" dy="1.2em">regulated</tspan><tspan x="0" dy="1.2em">subsidiary</tspan></text></g>
<g id="f-fi-cea" class="b" transform="translate(1029,269)"><circle/><text y="-.85em">Financial<tspan x="0" dy="1.2em">institution</tspan><tspan x="0" dy="1.2em">(CEA)</tspan></text></g>
<g id="f-fi-payment" class="b" transform="translate(1029,303)"><circle/><text y="-1.45em">Fin. inst.<tspan x="0" dy="1.2em">(payment</tspan><tspan x="0" dy="1.2em">system risk,</tspan><tspan x="0" dy="1.2em">FDICIA)</tspan></text></g>
<g id="f-clearing-org-payment" class="b" transform="translate(1029,340)"><circle/><text y="-2.05em">Clearing<tspan x="0" dy="1.2em">org.</tspan><tspan x="0" dy="1.2em">(payment</tspan><tspan x="0" dy="1.2em">system risk,</tspan><tspan x="0" dy="1.2em">FDICIA)</tspan></text></g>
<g id="f-fin-agency-rsa" class="b" transform="translate(1097,118)"><circle/><text y="-.85em">Financial<tspan x="0" dy="1.2em">agency</tspan><tspan x="0" dy="1.2em">(RSA)</tspan></text></g>
<g id="f-creditor-tila" class="b" transform="translate(1134,111)"><circle/><text y="-.25em">Creditor<tspan x="0" dy="1.2em">(TILA)</tspan></text></g>
<g id="f-reseller" class="b" transform="translate(1167,102)"><circle/><text y="-.25em">Reseller<tspan x="0" dy="1.2em">(FATCA)</tspan></text></g>
<g id="f-cra-fatca" class="b" transform="translate(1205,125)"><circle/><text y="-1.45em">Consumer<tspan x="0" dy="1.2em">reporting</tspan><tspan x="0" dy="1.2em">agency</tspan><tspan x="0" dy="1.2em">(FATCA)</tspan></text></g>
<g id="f-debt-collector" class="b" transform="translate(1243,125)"><circle/><text y="-.25em">Debt<tspan x="0" dy="1.2em">collector</tspan></text></g>
<g id="f-nationwide-cra" class="b" transform="translate(1317,115)"><circle/><text y="-2.05em">Nationwide<tspan x="0" dy="1.2em">specialty</tspan><tspan x="0" dy="1.2em">consumer</tspan><tspan x="0" dy="1.2em">reporting</tspan><tspan x="0" dy="1.2em">agency</tspan></text></g>
<g id="f-tpso" class="b" transform="translate(1283,137)"><circle/><text y="-.85em">Third party<tspan x="0" dy="1.2em">settlement</tspan><tspan x="0" dy="1.2em">organization</tspan></text></g>
<g id="f-uninsured-banks-rsa" class="b" transform="translate(1062,147)"><circle/><text y="-2.65em">Uninsured<tspan x="0" dy="1.2em">banks or</tspan><tspan x="0" dy="1.2em">uninsured</tspan><tspan x="0" dy="1.2em">institutions</tspan><tspan x="0" dy="1.2em">of any type</tspan><tspan x="0" dy="1.2em">(RSA)</tspan></text></g>
<g id="f-cra-rsa" class="b" transform="translate(1129,148)"><circle/><text y="-1.45em">Consumer<tspan x="0" dy="1.2em">reporting</tspan><tspan x="0" dy="1.2em">agency</tspan><tspan x="0" dy="1.2em">(RSA)</tspan></text></g>
<g id="f-org-tila" class="b" transform="translate(1173,147)"><circle/><text y="-.25em">Organization<tspan x="0" dy="1.2em">(TILA)</tspan></text></g>
<g id="f-affiliate-privacy" class="b" transform="translate(1343,160)"><circle/><text y="-1.45em">Affiliate<tspan x="0" dy="1.2em">(privacy,</tspan><tspan x="0" dy="1.2em">Title V, GLB</tspan><tspan x="0" dy="1.2em">Act)</tspan></text></g>
<g id="f-consumer-lessor" class="b" transform="translate(1216,166)"><circle/><text y="-.25em">Consumer<tspan x="0" dy="1.2em">lessor</tspan></text></g>
<g id="f-sibhc" class="b" transform="translate(1062,180)"><circle/><text y="-2.05em">Supervised<tspan x="0" dy="1.2em">investment</tspan><tspan x="0" dy="1.2em">bank</tspan><tspan x="0" dy="1.2em">holding</tspan><tspan x="0" dy="1.2em">company</tspan></text></g>
<g id="f-furnisher" class="b" transform="translate(1103,178)"><circle/><text y=".35em">Furnisher</text></g>
<g id="f-fee-appraiser" class="b" transform="translate(1152,189)"><circle/><text y="-.85em">Fee<tspan x="0" dy="1.2em">appraiser</tspan><tspan x="0" dy="1.2em">(TILA)</tspan></text></g>
<g id="f-secondary-market" class="b" transform="translate(1286,180)"><circle/><text y="-2.05em">Secondary<tspan x="0" dy="1.2em">market inst.</tspan><tspan x="0" dy="1.2em">(privacy,</tspan><tspan x="0" dy="1.2em">Title V, GLB</tspan><tspan x="0" dy="1.2em">Act)</tspan></text></g>
<g id="f-non-depository" class="b" transform="translate(1193,203)"><circle/><text y="-2.05em">Non-<tspan x="0" dy="1.2em">depository</tspan><tspan x="0" dy="1.2em">covered</tspan><tspan x="0" dy="1.2em">persons</tspan><tspan x="0" dy="1.2em">(CFPB)</tspan></text></g>
<g id="f-title-company" class="b" transform="translate(1246,197)"><circle/><text y="-.85em">Title<tspan x="0" dy="1.2em">company</tspan><tspan x="0" dy="1.2em">(RESPA)</tspan></text></g>
<g id="f-credit-repair" class="b" transform="translate(1322,209)"><circle/><text y="-.85em">Credit<tspan x="0" dy="1.2em">repair</tspan><tspan x="0" dy="1.2em">organization</tspan></text></g>
<g id="f-card-issuer-fatca" class="b" transform="translate(1061,214)"><circle/><text y="-.25em">Card issuer<tspan x="0" dy="1.2em">(FATCA)</tspan></text></g>
<g id="f-business-assn" class="b" transform="translate(1114,224)"><circle/><text y="-.85em">Business<tspan x="0" dy="1.2em">association</tspan><tspan x="0" dy="1.2em">(ECOA)</tspan></text></g>
<g id="f-affiliate-cfpb" class="b" transform="translate(1159,233)"><circle/><text y="-2.05em">Affiliate (as<tspan x="0" dy="1.2em">service</tspan><tspan x="0" dy="1.2em">provider,</tspan><tspan x="0" dy="1.2em">CFPB, Title</tspan><tspan x="0" dy="1.2em">X, DFA)</tspan></text></g>
<g id="f-designated-clearing" class="b" transform="translate(1222,236)"><circle/><text y="-.85em">Designated<tspan x="0" dy="1.2em">clearing</tspan><tspan x="0" dy="1.2em">entity</tspan></text></g>
<g id="f-fmu" class="b" transform="translate(1275,227)"><circle/><text y="-.85em">Financial<tspan x="0" dy="1.2em">market</tspan><tspan x="0" dy="1.2em">utility</tspan></text></g>
<g id="f-bank-affiliated-ic" class="b" transform="translate(1063,245)"><circle/><text y="-1.45em">[Bank]<tspan x="0" dy="1.2em">affiliated</tspan><tspan x="0" dy="1.2em">investment</tspan><tspan x="0" dy="1.2em">company</tspan></text></g>
<g id="f-controlled-company" class="b" transform="translate(1190,261)"><circle/><text y="-.25em">Controlled<tspan x="0" dy="1.2em">company</tspan></text></g>
<g id="f-resource-extraction" class="b" transform="translate(1259,262)"><circle/><text y="-.85em">Resource<tspan x="0" dy="1.2em">extraction</tspan><tspan x="0" dy="1.2em">issuer</tspan></text></g>
<g id="f-swap-dealer" class="b" transform="translate(1313,256)"><circle/><text y="-.85em">Swap dealer<tspan x="0" dy="1.2em">(Title VII,</tspan><tspan x="0" dy="1.2em">DFA)</tspan></text></g>
<g id="f-municipal-advisor" class="b" transform="translate(1116,269)"><circle/><text y="-.25em">Municipal<tspan x="0" dy="1.2em">advisor</tspan></text></g>
<g id="f-func-reg-affiliate" class="b" transform="translate(1061,285)"><circle/><text y="-.85em">Functionally<tspan x="0" dy="1.2em">regulated</tspan><tspan x="0" dy="1.2em">affiliate</tspan></text></g>
<g id="f-fi-commodities" class="b" transform="translate(1155,288)"><circle/><text y="-2.05em">Financial<tspan x="0" dy="1.2em">institution</tspan><tspan x="0" dy="1.2em">(commoditi-</tspan><tspan x="0" dy="1.2em">es, Title VII,</tspan><tspan x="0" dy="1.2em">DFA)</tspan></text></g>
<g id="f-large-trader-t7" class="b" transform="translate(1207,304)"><circle/><text y="-.85em">Large<tspan x="0" dy="1.2em">trader (Title</tspan><tspan x="0" dy="1.2em">VII, DFA)</tspan></text></g>
<g id="f-sub-nrsro" class="b" transform="translate(1249,301)"><circle/><text y="-.25em">Subsidiary<tspan x="0" dy="1.2em">(of NRSRO)</tspan></text></g>
<g id="f-family-office" class="b" transform="translate(1294,297)"><circle/><text y="-.25em">Family<tspan x="0" dy="1.2em">office</tspan></text></g>
<g id="f-dcm" class="b" transform="translate(1100,312)"><circle/><text y="-.85em">Designated<tspan x="0" dy="1.2em">contract</tspan><tspan x="0" dy="1.2em">market</tspan></text></g>
<g id="f-ecp" class="b" transform="translate(1059,323)"><circle/><text y="-.85em">Eligible<tspan x="0" dy="1.2em">contract</tspan><tspan x="0" dy="1.2em">participant</tspan></text></g>
<g id="f-sbsef" class="b" transform="translate(1146,327)"><circle/><text y="-1.45em">Security-<tspan x="0" dy="1.2em">based swap</tspan><tspan x="0" dy="1.2em">execution</tspan><tspan x="0" dy="1.2em">facility</tspan></text></g>
<g id="f-sbsdr" class="b" transform="translate(1187,340)"><circle/><text y="-1.45em">Security-<tspan x="0" dy="1.2em">based swap</tspan><tspan x="0" dy="1.2em">data</tspan><tspan x="0" dy="1.2em">repository</tspan></text></g>
<g id="f-special-entity" class="b" transform="translate(1240,342)"><circle/><text y="-.85em">Special<tspan x="0" dy="1.2em">entity (Title</tspan><tspan x="0" dy="1.2em">VII, DFA)</tspan></text></g>
<g id="f-introducing-broker" class="b" transform="translate(1284,336)"><circle/><text y="-.25em">Introducing<tspan x="0" dy="1.2em">broker</tspan></text></g>
<g id="f-dtef" class="b" transform="translate(1327,332)"><circle/><text y="-1.45em">Derivatives<tspan x="0" dy="1.2em">transaction</tspan><tspan x="0" dy="1.2em">execution</tspan><tspan x="0" dy="1.2em">facility</tspan></text></g>
<g id="f-sef" class="b" transform="translate(1107,357)"><circle/><text y="-.85em">Swap<tspan x="0" dy="1.2em">execution</tspan><tspan x="0" dy="1.2em">facility</tspan></text></g>
<g id="f-registered-entity" class="b" transform="translate(1062,370)"><circle/><text y="-.25em">Registered<tspan x="0" dy="1.2em">entity</tspan></text></g>
<g id="f-msp" class="b" transform="translate(1153,375)"><circle/><text y="-.25em">Major swap<tspan x="0" dy="1.2em">participant</tspan></text></g>
<g id="f-cpo" class="b" transform="translate(1208,378)"><circle/><text y="-.85em">Commodity<tspan x="0" dy="1.2em">pool</tspan><tspan x="0" dy="1.2em">operator</tspan></text></g>
<g id="f-covered-bd" class="b" transform="translate(1262,382)"><circle/><text y="-1.45em">Covered<tspan x="0" dy="1.2em">broker or</tspan><tspan x="0" dy="1.2em">dealer (Title</tspan><tspan x="0" dy="1.2em">II, DFA)</tspan></text></g>
<g id="f-sbsd" class="b" transform="translate(1312,375)"><circle/><text y="-.85em">Security-<tspan x="0" dy="1.2em">based swap</tspan><tspan x="0" dy="1.2em">dealer</tspan></text></g>
<g id="f-ap-sbsd" class="b" transform="translate(1085,406)"><circle/><text y="-3.25em" style="font-size:3.2px">Associated<tspan x="0" dy="1.2em">person of a</tspan><tspan x="0" dy="1.2em">security-based</tspan><tspan x="0" dy="1.2em">swap dealer or</tspan><tspan x="0" dy="1.2em">major security-</tspan><tspan x="0" dy="1.2em">based swap</tspan><tspan x="0" dy="1.2em">participant</tspan></text></g>
<g id="f-mid-sized-advisor" class="b" transform="translate(1133,417)"><circle/><text y="-.85em">Mid-sized<tspan x="0" dy="1.2em">private fund</tspan><tspan x="0" dy="1.2em">advisor</tspan></text></g>
<g id="f-ap-sd" class="b" transform="translate(1183,409)"><circle/><text y="-2.05em" style="font-size:3.4px">Associated<tspan x="0" dy="1.2em">person of a</tspan><tspan x="0" dy="1.2em">swap dealer or</tspan><tspan x="0" dy="1.2em">major swap</tspan><tspan x="0" dy="1.2em">participant</tspan></text></g>
<g id="f-hedge-fund" class="b" transform="translate(1243,417)"><circle/><text y=".35em">Hedge fund</text></g>
<g id="f-foreign-private-advisor" class="b" transform="translate(1287,411)"><circle/><text y="-.85em">Foreign<tspan x="0" dy="1.2em">private</tspan><tspan x="0" dy="1.2em">advisor</tspan></text></g>
<g id="f-sdr" class="b" transform="translate(1326,438)"><circle/><text y="-.25em">Swap data<tspan x="0" dy="1.2em">repository</tspan></text></g>
<g id="f-financial-entity" class="b" transform="translate(1102,445)"><circle/><text y="-.85em">Financial<tspan x="0" dy="1.2em">entity (Title</tspan><tspan x="0" dy="1.2em">VII, DFA)</tspan></text></g>
<g id="f-organized-exchange" class="b" transform="translate(1153,452)"><circle/><text y="-.25em">Organized<tspan x="0" dy="1.2em">exchange</tspan></text></g>
<g id="f-private-fund" class="b" transform="translate(1211,449)"><circle/><text y=".35em">Private fund</text></g>
<g id="f-large-swap-trader" class="b" transform="translate(1274,456)"><circle/><text y="-.25em">Large swap<tspan x="0" dy="1.2em">trader</tspan></text></g>
<g id="f-failed-member" class="b" transform="translate(1060,457)"><circle/><text y="-2.05em">Failed<tspan x="0" dy="1.2em">member</tspan><tspan x="0" dy="1.2em">(payment</tspan><tspan x="0" dy="1.2em">system risk,</tspan><tspan x="0" dy="1.2em">FDICIA)</tspan></text></g>
<g id="f-pse" class="b" transform="translate(1094,486)"><circle/><text y="-.85em">Payment<tspan x="0" dy="1.2em">settlement</tspan><tspan x="0" dy="1.2em">entity</tspan></text></g>
<g id="f-swaps-entity" class="b" transform="translate(1179,486)"><circle/><text y=".35em">Swaps entity</text></g>
<g id="f-clearing-org-cea" class="b" transform="translate(1241,484)"><circle/><text y="-.85em">Clearing<tspan x="0" dy="1.2em">organization</tspan><tspan x="0" dy="1.2em">(CEA)</tspan></text></g>
<g id="f-fed-clearing" class="b" transform="translate(1306,486)"><circle/><text y="-.85em" style="font-size:2.8px">Federally-registered<tspan x="0" dy="1.2em">clearing agency or</tspan><tspan x="0" dy="1.2em">organization</tspan></text></g>
<g id="f-tiny-fmu" class="b" transform="translate(1136,510)"><circle/><text y="-1.45em" style="font-size:2.8px">Financial market utility<tspan x="0" dy="1.2em">designated as</tspan><tspan x="0" dy="1.2em">systemically important</tspan><tspan x="0" dy="1.2em">organization</tspan></text></g>
<g id="f-bd-payment" class="b" transform="translate(1060,519)"><circle/><text y="-2.05em">Broker or<tspan x="0" dy="1.2em">dealer</tspan><tspan x="0" dy="1.2em">(payment</tspan><tspan x="0" dy="1.2em">system risk,</tspan><tspan x="0" dy="1.2em">FDICIA)</tspan></text></g>
<g id="f-multilateral-1" class="b" transform="translate(1098,524)"><circle/><text y="-.85em">Multilateral<tspan x="0" dy="1.2em">clearing</tspan><tspan x="0" dy="1.2em">organization</tspan></text></g>
<g id="f-credit-rating" class="b" transform="translate(1202,523)"><circle/><text y="-.85em">Credit<tspan x="0" dy="1.2em">rating</tspan><tspan x="0" dy="1.2em">agencies</tspan></text></g>
<g id="f-large-trader" class="b" transform="translate(1274,526)"><circle/><text y="-.25em">Large<tspan x="0" dy="1.2em">trader</tspan></text></g>
<g id="f-foreign-paf" class="b" transform="translate(1166,542)"><circle/><text y="-1.45em">Foreign<tspan x="0" dy="1.2em">public</tspan><tspan x="0" dy="1.2em">accounting</tspan><tspan x="0" dy="1.2em">firm</tspan></text></g>
<g id="f-member-dtef" class="b" transform="translate(1328,553)"><circle/><text y="-2.05em">Member of<tspan x="0" dy="1.2em">derivatives</tspan><tspan x="0" dy="1.2em">transaction</tspan><tspan x="0" dy="1.2em">execution</tspan><tspan x="0" dy="1.2em">facility</tspan></text></g>
<g id="f-principal-uw-23a" class="b" transform="translate(1047,548)"><circle/><text y="-2.05em">Principal<tspan x="0" dy="1.2em">underwriter</tspan><tspan x="0" dy="1.2em">(Sec. 23A,</tspan><tspan x="0" dy="1.2em">Fed. Res.</tspan><tspan x="0" dy="1.2em">Act)</tspan></text></g>
<g id="f-epf" class="b" transform="translate(1115,563)"><circle/><text y="-.85em">Electronic<tspan x="0" dy="1.2em">payment</tspan><tspan x="0" dy="1.2em">facilitators</tspan></text></g>
<g id="f-carrying-broker" class="b" transform="translate(1223,565)"><circle/><text y="-.25em">Carrying<tspan x="0" dy="1.2em">broker</tspan></text></g>
<g id="f-paf" class="b" transform="translate(1271,573)"><circle/><text y="-.85em">Public<tspan x="0" dy="1.2em">accounting</tspan><tspan x="0" dy="1.2em">firm</tspan></text></g>
<g id="f-tppn" class="b" transform="translate(1310,590)"><circle/><text y="-.85em">Third party<tspan x="0" dy="1.2em">payment</tspan><tspan x="0" dy="1.2em">network</tspan></text></g>
<g id="f-dfmu" class="b" transform="translate(1054,590)"><circle/><text y="-1.45em">Designated<tspan x="0" dy="1.2em">financial</tspan><tspan x="0" dy="1.2em">market</tspan><tspan x="0" dy="1.2em">utility</tspan></text></g>
<g id="f-govt-sec-broker" class="b" transform="translate(1146,592)"><circle/><text y="-.25em">Gov't. sec.<tspan x="0" dy="1.2em">broker</tspan></text></g>
<g id="f-multilateral-2" class="b" transform="translate(1096,599)"><circle/><text y="-.85em">Multilateral<tspan x="0" dy="1.2em">clearing</tspan><tspan x="0" dy="1.2em">organization</tspan></text></g>
<g id="f-muni-sec-dealer" class="b" transform="translate(1198,603)"><circle/><text y="-.85em">Municipal<tspan x="0" dy="1.2em">securities</tspan><tspan x="0" dy="1.2em">dealer</tspan></text></g>
<g id="f-member-cm-1" class="b" transform="translate(1279,617)"><circle/><text y="-.85em">Member of<tspan x="0" dy="1.2em">contract</tspan><tspan x="0" dy="1.2em">market</tspan></text></g>
<g id="f-ece" class="b" transform="translate(1062,630)"><circle/><text y="-.85em">Eligible<tspan x="0" dy="1.2em">commercial</tspan><tspan x="0" dy="1.2em">entity</tspan></text></g>
<g id="f-fcm-payment" class="b" transform="translate(1129,632)"><circle/><text y="-2.65em">Futures<tspan x="0" dy="1.2em">commission</tspan><tspan x="0" dy="1.2em">merchant</tspan><tspan x="0" dy="1.2em">(payment</tspan><tspan x="0" dy="1.2em">system risk,</tspan><tspan x="0" dy="1.2em">FDICIA)</tspan></text></g>
<g id="f-pa-transfer-agent" class="b" transform="translate(1220,637)"><circle/><text y="-2.05em">Person<tspan x="0" dy="1.2em">associated</tspan><tspan x="0" dy="1.2em">with a</tspan><tspan x="0" dy="1.2em">transfer</tspan><tspan x="0" dy="1.2em">agent</tspan></text></g>
<g id="f-pa-govt-sec" class="b" transform="translate(1176,651)"><circle/><text y="-2.05em">Person<tspan x="0" dy="1.2em">associated</tspan><tspan x="0" dy="1.2em">w. gov't.</tspan><tspan x="0" dy="1.2em">sec. broker</tspan><tspan x="0" dy="1.2em">or dealer</tspan></text></g>
<g id="f-qualified-affiliate" class="b" transform="translate(1264,659)"><circle/><text y="-.85em">Qualified<tspan x="0" dy="1.2em">affiliate</tspan><tspan x="0" dy="1.2em">(sec. inv.)</tspan></text></g>
<g id="f-ibhc" class="b" transform="translate(1319,651)"><circle/><text y="-1.45em">Investment<tspan x="0" dy="1.2em">bank</tspan><tspan x="0" dy="1.2em">holding</tspan><tspan x="0" dy="1.2em">company</tspan></text></g>
<g id="f-trading-facility" class="b" transform="translate(1093,663)"><circle/><text y="-.25em">Trading<tspan x="0" dy="1.2em">facility</tspan></text></g>
<g id="f-etf" class="b" transform="translate(1141,689)"><circle/><text y="-.85em">Electronic<tspan x="0" dy="1.2em">trading</tspan><tspan x="0" dy="1.2em">facility</tspan></text></g>
<g id="f-member-clearing" class="b" transform="translate(1208,692)"><circle/><text y="-2.05em">Member (of<tspan x="0" dy="1.2em">clearing</tspan><tspan x="0" dy="1.2em">org., paym.</tspan><tspan x="0" dy="1.2em">system risk,</tspan><tspan x="0" dy="1.2em">FDICIA)</tspan></text></g>
<g id="f-pa-bd" class="b" transform="translate(1255,698)"><circle/><text y="-2.05em">Person<tspan x="0" dy="1.2em">associated</tspan><tspan x="0" dy="1.2em">with a</tspan><tspan x="0" dy="1.2em">broker or</tspan><tspan x="0" dy="1.2em">dealer</tspan></text></g>
<g id="f-uw-iaa" class="b" transform="translate(1303,692)"><circle/><text y="-.85em">Underwriter<tspan x="0" dy="1.2em">(Inv. Adv.</tspan><tspan x="0" dy="1.2em">Act)</tspan></text></g>
<g id="f-broker-iaa" class="b" transform="translate(1103,706)"><circle/><text y="-.25em">Broker (Inv.<tspan x="0" dy="1.2em">Adv. Act)</tspan></text></g>
<g id="f-govt-sec-dealer" class="b" transform="translate(1176,718)"><circle/><text y="-.25em">Gov't. sec.<tspan x="0" dy="1.2em">dealer</tspan></text></g>
<g id="f-dealer-ica" class="b" transform="translate(1232,733)"><circle/><text y="-.85em">Dealer (Inv.<tspan x="0" dy="1.2em">Co. Act, Inv.</tspan><tspan x="0" dy="1.2em">Adv. Act)</tspan></text></g>
<g id="f-vcfa" class="b" transform="translate(1062,736)"><circle/><text y="-.85em">Venture<tspan x="0" dy="1.2em">capital fund</tspan><tspan x="0" dy="1.2em">advisor</tspan></text></g>
<g id="f-issuer-ica" class="b" transform="translate(1287,736)"><circle/><text y="-.25em">Issuer (Inv.<tspan x="0" dy="1.2em">Co. Act)</tspan></text></g>
<g id="f-dco" class="b" transform="translate(1109,760)"><circle/><text y="-.85em">Derivatives<tspan x="0" dy="1.2em">clearing</tspan><tspan x="0" dy="1.2em">organization</tspan></text></g>
<g id="f-board-of-trade" class="b" transform="translate(1156,760)"><circle/><text y="-.25em">Board of<tspan x="0" dy="1.2em">trade</tspan></text></g>
<g id="f-pa-member-exch" class="b" transform="translate(1203,764)"><circle/><text y="-2.05em">Person<tspan x="0" dy="1.2em">associated</tspan><tspan x="0" dy="1.2em">w. member</tspan><tspan x="0" dy="1.2em">of nat'l. sec.</tspan><tspan x="0" dy="1.2em">exch.</tspan></text></g>
<g id="f-clearing-agency" class="b" transform="translate(1253,769)"><circle/><text y="-.25em">Clearing<tspan x="0" dy="1.2em">agency</tspan></text></g>
<g id="f-penny-stock" class="b" transform="translate(1297,776)"><circle/><text y="-2.05em">Person<tspan x="0" dy="1.2em">participating</tspan><tspan x="0" dy="1.2em">in an offering</tspan><tspan x="0" dy="1.2em">of a penny</tspan><tspan x="0" dy="1.2em">stock</tspan></text></g>
<g id="f-ia-iaa" class="b" transform="translate(1072,783)"><circle/><text y="-.85em">Investment<tspan x="0" dy="1.2em">advisor (Inv.</tspan><tspan x="0" dy="1.2em">Adv. Act)</tspan></text></g>
<g id="f-ia-ica" class="b" transform="translate(1153,802)"><circle/><text y="-.85em">Investment<tspan x="0" dy="1.2em">advisor (Inv.</tspan><tspan x="0" dy="1.2em">Co. Act)</tspan></text></g>
<g id="f-sro" class="b" transform="translate(1202,806)"><circle/><text y="-.85em">Self-<tspan x="0" dy="1.2em">regulatory</tspan><tspan x="0" dy="1.2em">organization</tspan></text></g>
<g id="f-closed-end" class="b" transform="translate(1267,807)"><circle/><text y="-.25em">Closed-end<tspan x="0" dy="1.2em">company</tspan></text></g>
<g id="f-transfer-agent" class="b" transform="translate(1108,814)"><circle/><text y="-.25em">Transfer<tspan x="0" dy="1.2em">agent</tspan></text></g>
<g id="f-pa-paf" class="b" transform="translate(1062,824)"><circle/><text y="-2.05em">Person<tspan x="0" dy="1.2em">associated</tspan><tspan x="0" dy="1.2em">w. public</tspan><tspan x="0" dy="1.2em">accounting</tspan><tspan x="0" dy="1.2em">firm</tspan></text></g>
<g id="f-uw-ica" class="b" transform="translate(1235,838)"><circle/><text y="-.85em">Underwriter<tspan x="0" dy="1.2em">(Inv. Co.</tspan><tspan x="0" dy="1.2em">Act)</tspan></text></g>
<g id="f-trustee-uw" class="b" transform="translate(1298,838)"><circle/><text y="-.25em">Trustee of<tspan x="0" dy="1.2em">underwriter</tspan></text></g>
<g id="f-exchange-ica" class="b" transform="translate(1143,846)"><circle/><text y="-1.45em">Exchange<tspan x="0" dy="1.2em">(Inv. Co.</tspan><tspan x="0" dy="1.2em">Act, Inv.</tspan><tspan x="0" dy="1.2em">Adv. Act)</tspan></text></g>
<g id="f-custodian" class="b" transform="translate(1194,853)"><circle/><text y="-1.45em">Custodian of<tspan x="0" dy="1.2em">reg. mgmt.</tspan><tspan x="0" dy="1.2em">co.</tspan><tspan x="0" dy="1.2em">securities</tspan></text></g>
<g id="f-employees-sec" class="b" transform="translate(1098,861)"><circle/><text y="-.25em">Employees'<tspan x="0" dy="1.2em">security co.</tspan></text></g>
<g id="f-promoter" class="b" transform="translate(1264,867)"><circle/><text y=".35em">Promoter</text></g>
<g id="f-diversified" class="b" transform="translate(1316,878)"><circle/><text y="-1.45em">Diversified/<tspan x="0" dy="1.2em">non-</tspan><tspan x="0" dy="1.2em">diversified</tspan><tspan x="0" dy="1.2em">company</tspan></text></g>
<g id="f-issuer-sea34" class="b" transform="translate(1083,897)"><circle/><text y="-.85em">Issuer (Sec.<tspan x="0" dy="1.2em">Ex. Act of</tspan><tspan x="0" dy="1.2em">'34</tspan></text></g>
<g id="f-investment-banker" class="b" transform="translate(1131,891)"><circle/><text y="-.25em">Investment<tspan x="0" dy="1.2em">banker</tspan></text></g>
<g id="f-principal-uw-ica" class="b" transform="translate(1178,887)"><circle/><text y="-1.45em">Principal<tspan x="0" dy="1.2em">underwriter</tspan><tspan x="0" dy="1.2em">(Inv. Co.</tspan><tspan x="0" dy="1.2em">Act)</tspan></text></g>
<g id="f-broker-ica" class="b" transform="translate(1228,894)"><circle/><text y="-.25em">Broker (Inv.<tspan x="0" dy="1.2em">Co. Act)</tspan></text></g>
<g id="f-open-end" class="b" transform="translate(1288,908)"><circle/><text y="-.25em">Open-end<tspan x="0" dy="1.2em">company</tspan></text></g>
<g id="f-regular-broker" class="b" transform="translate(1112,933)"><circle/><text y="-.25em">Regular<tspan x="0" dy="1.2em">broker</tspan></text></g>
<g id="f-member-nonmember" class="b" transform="translate(1163,928)"><circle/><text y="-2.05em">Member/<tspan x="0" dy="1.2em">nonmember</tspan><tspan x="0" dy="1.2em">broker,</tspan><tspan x="0" dy="1.2em">dealer (of</tspan><tspan x="0" dy="1.2em">assn.)</tspan></text></g>
<g id="f-fcm" class="b" transform="translate(1207,931)"><circle/><text y="-.85em">Futures<tspan x="0" dy="1.2em">commission</tspan><tspan x="0" dy="1.2em">merchant</tspan></text></g>
<g id="f-affiliated-co" class="b" transform="translate(1251,928)"><circle/><text y="-1.45em">Affiliated<tspan x="0" dy="1.2em">co. (Inv. Co.</tspan><tspan x="0" dy="1.2em">Act, Inv.</tspan><tspan x="0" dy="1.2em">Adv. Act)</tspan></text></g>
<g id="f-floor-broker" class="b" transform="translate(1319,943)"><circle/><text y=".35em">Floor broker</text></g>
<g id="f-dealer-for-sec" class="b" transform="translate(1066,954)"><circle/><text y="-.25em">Dealer in<tspan x="0" dy="1.2em">for. sec.</tspan></text></g>
<g id="f-affiliated-person" class="b" transform="translate(1229,962)"><circle/><text y="-1.45em">Affiliated<tspan x="0" dy="1.2em">person (Inv.</tspan><tspan x="0" dy="1.2em">Co. Act, Inv.</tspan><tspan x="0" dy="1.2em">Adv. Act)</tspan></text></g>
<g id="f-uit" class="b" transform="translate(1279,967)"><circle/><text y="-.85em">Unit<tspan x="0" dy="1.2em">investment</tspan><tspan x="0" dy="1.2em">trust</tspan></text></g>
<g id="f-member-cm-2" class="b" transform="translate(1105,976)"><circle/><text y="-.85em">Member of<tspan x="0" dy="1.2em">contract</tspan><tspan x="0" dy="1.2em">market</tspan></text></g>
<g id="f-mgmt-company" class="b" transform="translate(1147,967)"><circle/><text y="-.25em">Mgmt.<tspan x="0" dy="1.2em">company</tspan></text></g>
<g id="f-member-exchange" class="b" transform="translate(1189,981)"><circle/><text y="-.25em">Member (of<tspan x="0" dy="1.2em">exchange)</tspan></text></g>
<g id="f-broker" class="b" transform="translate(1077,1014)"><circle/><text y=".35em">Broker</text></g>
<g id="f-dealer-sa33" class="b" transform="translate(1128,1008)"><circle/><text y="-.25em">Dealer (Sec.<tspan x="0" dy="1.2em">Act of '33)</tspan></text></g>
<g id="f-natl-affiliated-sec" class="b" transform="translate(1168,1014)"><circle/><text y="-.85em">Nat'l.<tspan x="0" dy="1.2em">affiliated</tspan><tspan x="0" dy="1.2em">sec. assn.</tspan></text></g>
<g id="f-depositor-uw" class="b" transform="translate(1220,1007)"><circle/><text y="-.25em">Depositor of<tspan x="0" dy="1.2em">underwriter</tspan></text></g>
<g id="f-underwriter" class="b" transform="translate(1260,1003)"><circle/><text y=".35em">Underwriter</text></g>
<g id="f-facility-exchange" class="b" transform="translate(1312,998)"><circle/><text y="-.25em">Facility (of<tspan x="0" dy="1.2em">exchange)</tspan></text></g>
<g id="f-unreg-ic" class="b" transform="translate(1291,1033)"><circle/><text y="-.85em">Unreg.<tspan x="0" dy="1.2em">investment</tspan><tspan x="0" dy="1.2em">company</tspan></text></g>
<g id="f-investment-company" class="b" transform="translate(1329,1031)"><circle/><text y="-.25em">Investment<tspan x="0" dy="1.2em">company</tspan></text></g>
<g id="f-issuer-sa33" class="b" transform="translate(1067,1056)"><circle/><text y="-.25em">Issuer (Sec.<tspan x="0" dy="1.2em">Act of '33)</tspan></text></g>
<g id="f-trustee-for-sec" class="b" transform="translate(1112,1051)"><circle/><text y="-.25em">Trustee of<tspan x="0" dy="1.2em">for. sec.</tspan></text></g>
<g id="f-dealer-sea34" class="b" transform="translate(1201,1048)"><circle/><text y="-.85em">Dealer (Sec.<tspan x="0" dy="1.2em">Ex. Act of</tspan><tspan x="0" dy="1.2em">'34)</tspan></text></g>
<g id="f-financial-agent" class="b" transform="translate(1244,1042)"><circle/><text y="-.25em">Financial<tspan x="0" dy="1.2em">agent</tspan></text></g>
<g id="f-face-amount" class="b" transform="translate(1161,1066)"><circle/><text y="-1.45em">Face-<tspan x="0" dy="1.2em">amount</tspan><tspan x="0" dy="1.2em">certificate</tspan><tspan x="0" dy="1.2em">company</tspan></text></g>
<g id="f-natl-sec-exchange" class="b" transform="translate(1273,1067)"><circle/><text y="-1.45em">Nat'l. sec.<tspan x="0" dy="1.2em">exchange,</tspan><tspan x="0" dy="1.2em">foreign sec.</tspan><tspan x="0" dy="1.2em">exchange</tspan></text></g>
</g>
<g id="outer-nodes">
<g id="affiliate-banking-act" class="d" transform="translate(1449,191)"><circle/><text y="-.85em">Affiliate<tspan x="0" dy="1.2em">(Banking</tspan><tspan x="0" dy="1.2em">Act of '33)</tspan></text></g>
<g id="significant-nonbank" class="d" transform="translate(1575,162)"><circle/><text y="-1.45em">Significant<tspan x="0" dy="1.2em">nonbank</tspan><tspan x="0" dy="1.2em">financial</tspan><tspan x="0" dy="1.2em">company</tspan></text></g>
<g id="company-predominantly" class="d" transform="translate(1673,129)"><circle/><text y="-2.05em" style="font-size:11px">Company<tspan x="0" dy="1.2em">predominantly</tspan><tspan x="0" dy="1.2em">engaged in</tspan><tspan x="0" dy="1.2em">financial</tspan><tspan x="0" dy="1.2em">activities</tspan></text></g>
<g id="holding-co-affiliate" class="d" transform="translate(1522,251)"><circle/><text y="-.85em">Holding<tspan x="0" dy="1.2em">company</tspan><tspan x="0" dy="1.2em">affiliate</tspan></text></g>
<g id="nonbank-fc" class="d" transform="translate(1638,239)"><circle/><text y="-.85em">Nonbank<tspan x="0" dy="1.2em">financial</tspan><tspan x="0" dy="1.2em">company</tspan></text></g>
<g id="affiliate-fra" class="d" transform="translate(1430,289)"><circle/><text y="-.85em">Affiliate<tspan x="0" dy="1.2em">(Fed. Res.</tspan><tspan x="0" dy="1.2em">Act)</tspan></text></g>
<g id="us-nonbank-fc" class="d" transform="translate(1595,325)"><circle/><text y="-1.45em">U.S.<tspan x="0" dy="1.2em">nonbank</tspan><tspan x="0" dy="1.2em">financial</tspan><tspan x="0" dy="1.2em">company</tspan></text></g>
<g id="affiliate-bhc" class="d" transform="translate(1501,359)"><circle/><text y="-.25em">Affiliate<tspan x="0" dy="1.2em">(BHC Act)</tspan></text></g>
<g id="check-clearinghouse" class="d" transform="translate(1407,391)"><circle/><text y="-.85em">Check<tspan x="0" dy="1.2em">clearinghouse</tspan><tspan x="0" dy="1.2em">assn.</tspan></text></g>
<g id="foreign-nonbank-fc" class="d" transform="translate(1658,405)"><circle/><text y="-1.45em">Foreign<tspan x="0" dy="1.2em">nonbank</tspan><tspan x="0" dy="1.2em">financial</tspan><tspan x="0" dy="1.2em">company</tspan></text></g>
<g id="state-appraiser-agency" class="d" transform="translate(1500,462)"><circle/><text y="-2.05em" style="font-size:11.5px">State<tspan x="0" dy="1.2em">appraiser</tspan><tspan x="0" dy="1.2em">certifying and</tspan><tspan x="0" dy="1.2em">licensing</tspan><tspan x="0" dy="1.2em">agency</tspan></text></g>
<g id="motor-vehicle-dealer" class="d" transform="translate(1760,425)"><circle/><text y="-.85em">Motor<tspan x="0" dy="1.2em">vehicle</tspan><tspan x="0" dy="1.2em">dealer</tspan></text></g>
<g id="nonbanking-org" class="d" transform="translate(1856,461)"><circle/><text y="-.85em">Nonbanking<tspan x="0" dy="1.2em">Org. (BHC</tspan><tspan x="0" dy="1.2em">Act)</tspan></text></g>
<g id="state-licensed-appraiser" class="d" transform="translate(1402,487)"><circle/><text y="-.85em">State-<tspan x="0" dy="1.2em">licensed</tspan><tspan x="0" dy="1.2em">appraiser</tspan></text></g>
<g id="non-us-insurer" class="d" transform="translate(1588,507)"><circle/><text y="-.85em">Non-United<tspan x="0" dy="1.2em">States</tspan><tspan x="0" dy="1.2em">insurer</tspan></text></g>
<g id="non-bhc-company" class="d" transform="translate(1767,527)"><circle/><text y="-.85em">[Non-BHC]<tspan x="0" dy="1.2em">Company</tspan><tspan x="0" dy="1.2em">(BHC Act)</tspan></text></g>
<g id="company-inv-co" class="d" transform="translate(1860,569)"><circle/><text y="-1.45em">Company<tspan x="0" dy="1.2em">(Inv. Co.</tspan><tspan x="0" dy="1.2em">Act, Inv.</tspan><tspan x="0" dy="1.2em">Adv. Act)</tspan></text></g>
<g id="slhc-subs" class="d" transform="translate(1472,578)"><circle/><text y="-.85em">SLHC<tspan x="0" dy="1.2em">subsidiaries,</tspan><tspan x="0" dy="1.2em">affiliates</tspan></text></g>
<g id="uninsured-institution" class="d" transform="translate(1397,650)"><circle/><text y="-.25em">Uninsured<tspan x="0" dy="1.2em">institution</tspan></text></g>
<g id="tax-preparer" class="d" transform="translate(1665,626)"><circle/><text y="-2.65em" style="font-size:11px">Person that<tspan x="0" dy="1.2em">performs</tspan><tspan x="0" dy="1.2em">income tax</tspan><tspan x="0" dy="1.2em">preparation</tspan><tspan x="0" dy="1.2em">activities for</tspan><tspan x="0" dy="1.2em">consumers</tspan></text></g>
<g id="non-slhc-company" class="d" transform="translate(1765,640)"><circle/><text y="-1.45em">[Non-SLHC]<tspan x="0" dy="1.2em">Company</tspan><tspan x="0" dy="1.2em">(SLHC Am.</tspan><tspan x="0" dy="1.2em">Act)</tspan></text></g>
<g id="uninsured-industrial" class="d" transform="translate(1472,729)"><circle/><text y="-.85em">[Uninsured]<tspan x="0" dy="1.2em">industrial</tspan><tspan x="0" dy="1.2em">bank</tspan></text></g>
<g id="foreign-slhc" class="d" transform="translate(1628,727)"><circle/><text y="-1.45em">Foreign<tspan x="0" dy="1.2em">savings and</tspan><tspan x="0" dy="1.2em">loan holding</tspan><tspan x="0" dy="1.2em">company</tspan></text></g>
<g id="grandfathered-slhc" class="d" transform="translate(1625,828)"><circle/><text y="-2.05em" style="font-size:11px">Grandfathered<tspan x="0" dy="1.2em">unitary savings</tspan><tspan x="0" dy="1.2em">and loan</tspan><tspan x="0" dy="1.2em">holding</tspan><tspan x="0" dy="1.2em">company</tspan></text></g>
<g id="savings-bank-hc" class="d" transform="translate(1440,940)"><circle/><text y="-1.45em">Savings<tspan x="0" dy="1.2em">bank</tspan><tspan x="0" dy="1.2em">holding</tspan><tspan x="0" dy="1.2em">company</tspan></text></g>
<g id="regulated-foreign-sub" class="d" transform="translate(1654,925)"><circle/><text y="-1.45em">Regulated<tspan x="0" dy="1.2em">foreign</tspan><tspan x="0" dy="1.2em">subsidiary</tspan><tspan x="0" dy="1.2em">(insurance)</tspan></text></g>
<g id="commercial-firm" class="d" transform="translate(1819,980)"><circle/><text y="-.25em">Commercial<tspan x="0" dy="1.2em">firm</tspan></text></g>
<g id="state-lending-agencies" class="d" transform="translate(1393,1026)"><circle/><text y="-.85em">State lending<tspan x="0" dy="1.2em">agencies</tspan><tspan x="0" dy="1.2em">(TILA)</tspan></text></g>
<g id="regulated-foreign-affiliate" class="d" transform="translate(1632,1020)"><circle/><text y="-1.45em">Regulated<tspan x="0" dy="1.2em">foreign</tspan><tspan x="0" dy="1.2em">affiliate</tspan><tspan x="0" dy="1.2em">(insurance)</tspan></text></g>
</g>
</svg>
